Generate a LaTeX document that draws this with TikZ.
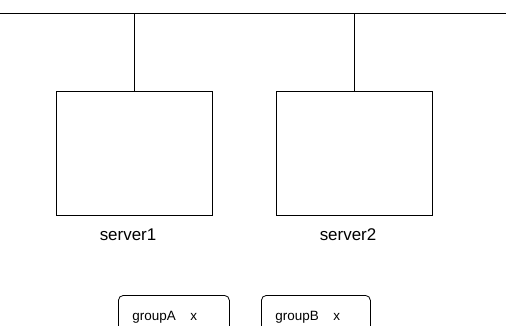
\documentclass[tikz,border=0pt]{standalone}
\usepackage{fontspec}
\setmainfont{Liberation Sans}
\begin{document}
\begin{tikzpicture}[x=1bp, y=-1bp, line width=0.8pt,
  srvbox/.style={draw, minimum width=156bp, minimum height=124bp, inner sep=0pt},
  srvlbl/.style={font=\fontsize{17}{20}\selectfont},
  grpbox/.style={draw, rounded corners=5bp, minimum height=44bp, anchor=north west,
                 inner xsep=14bp, inner ysep=0pt, align=left, font=\fontsize{13.5}{16}\selectfont}]
  \useasboundingbox (0,0) rectangle (506,325);
  % bus
  \coordinate (busL) at (0,13);
  \coordinate (busR) at (506,13);
  \draw (busL) -- (busR);
  % servers
  \foreach \n/\xc in {1/134, 2/354} {
    \node[srvbox] (srv\n) at (\xc,153) {};
    \draw (srv\n.north) -- (srv\n.north |- busL);
    \node[srvlbl] (lbl\n) at (\xc-6,235) {server\n};
  }
  % groups
  \foreach \g/\xg/\wg in {A/118/83, B/261/81} {
    \node[grpbox, text width=\wg bp] (grp\g) at (\xg,295) {\makebox[58bp][l]{group\g}x};
  }
\end{tikzpicture}
\end{document}
